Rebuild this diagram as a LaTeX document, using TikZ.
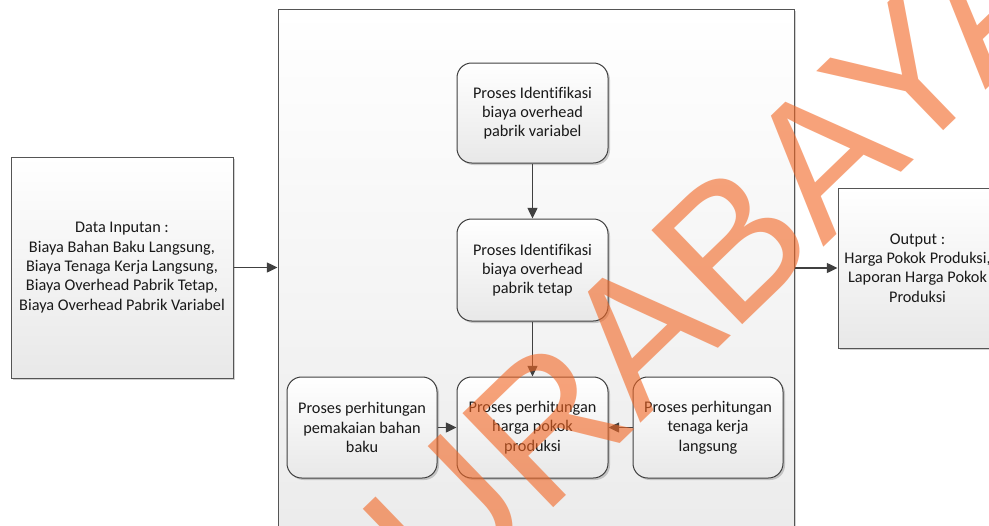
\documentclass[tikz,border=0pt]{standalone}
\usepackage{fontspec}
\setmainfont{Carlito}[Ligatures=CommonOff]
\newfontfamily\wmfont{Liberation Sans}
\usetikzlibrary{arrows.meta,shadows}
\definecolor{edge}{HTML}{555555}
\definecolor{wmorange}{RGB}{242,101,34}
\begin{document}
\begin{tikzpicture}[x=0.75pt,y=-0.75pt,
  sz/.style 2 args={minimum width=#1*0.75pt, minimum height=#2*0.75pt},
  box/.style={draw=edge, line width=0.75pt, inner sep=0pt, top color=white,
    bottom color=black!9, align=center, text=black!90,
    font=\fontsize{12.2}{14.5}\selectfont,
    drop shadow={shadow xshift=1.5pt,shadow yshift=-1.5pt,opacity=0.18,fill=black}},
  procbox/.style={box, rounded corners=11pt, draw=black!75},
  flow/.style={draw=black!75, line width=1pt, -{Triangle[length=8pt,width=7.5pt]}},
]
\useasboundingbox (0,0) rectangle (989,525);
\clip (0,0) rectangle (989,525);
\fill[white] (0,0) rectangle (989,525);

% system boundary
\node[box, sz={516}{551}, bottom color=black!8] (frame) at (536,284.5) {};

% input and output
\node[box, sz={222}{221}] (input) at (122,267.5)
  {Data Inputan :\\ Biaya Bahan Baku Langsung,\\ Biaya Tenaga Kerja Langsung,\\
   Biaya Overhead Pabrik Tetap,\\ Biaya Overhead Pabrik Variabel};
\node[box, sz={159}{160}] (output) at (917.5,268)
  {Output :\\ Harga Pokok Produksi,\\ Laporan Harga Pokok\\ Produksi};

% process steps
\node[procbox, sz={151}{100}] (var) at (532.5,113)
  {Proses Identifikasi\\ biaya overhead\\ pabrik variabel};
\node[procbox, sz={151}{102}] (tetap) at (532.5,270)
  {Proses Identifikasi\\ biaya overhead\\ pabrik tetap};
\node[procbox, sz={151}{101}] (hpp) at (532.5,427.5)
  {Proses perhitungan\\ harga pokok\\ produksi};
\node[procbox, sz={150}{101}] (bahan) at (362,427.5)
  {Proses perhitungan\\ pemakaian bahan\\ baku};
\node[procbox, sz={150}{101}] (tenaga) at (708,427.5)
  {Proses perhitungan\\ tenaga kerja\\ langsung};

% connectors
\draw[flow] (input.east) -- (input.east -| frame.west);
\draw[flow] (frame.east |- output.west) -- (output.west);
\draw[flow] (var.south) -- (tetap.north);
\draw[flow] (tetap.south) -- (hpp.north);
\draw[flow] (bahan.east) -- (hpp.west);
\draw[flow] (tenaga.west) -- (hpp.east);

% watermark
\node[text=wmorange, opacity=0.6, rotate=44, anchor=base west, inner sep=0pt,
  font=\wmfont\fontsize{142.5}{150}\selectfont] (mark) at (352,702) {SURABAYA};
\end{tikzpicture}
\end{document}
